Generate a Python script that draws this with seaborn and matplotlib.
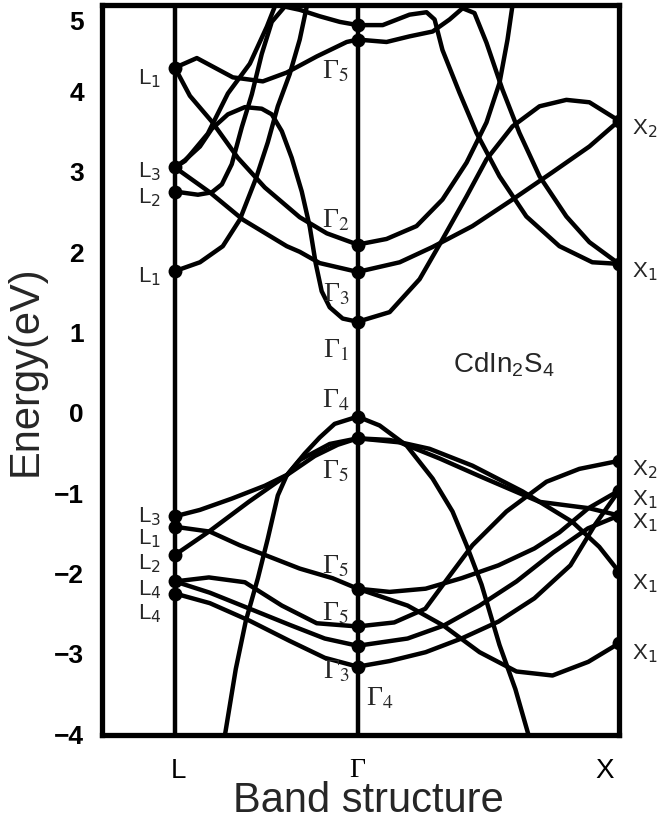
import numpy as np
import pandas as pd
import matplotlib
matplotlib.use("Agg")
import matplotlib.pyplot as plt
import matplotlib.transforms as mtransforms
import seaborn as sns

# ---------------- data (k: L=0, Gamma=1, X=2.43 ; E in eV) ----------------
K_L, K_G, K_X = 0.0, 1.0, 2.43

# conduction bands, L -> Gamma
c1_k = [0, 0.12, 0.317, 0.481, 0.612, 0.776, 0.94, 1.0]
c1_e = [4.28, 4.40, 4.16, 4.11, 4.22, 4.42, 4.60, 4.63]
c2_k = [0, 0.082, 0.202, 0.344, 0.492, 0.683, 0.831, 1.0]
c2_e = [4.28, 3.93, 3.61, 3.16, 2.79, 2.42, 2.22, 2.08]
c3_k = [0, 0.191, 0.372, 0.612, 0.683, 0.792, 1.0]
c3_e = [3.04, 2.73, 2.39, 2.06, 1.99, 1.85, 1.74]
c4_k = [0, 0.055, 0.137, 0.202, 0.29, 0.383, 0.475, 0.53, 0.585, 0.639, 0.694, 0.738, 0.77, 0.803, 0.847, 0.918, 1.0]
c4_e = [3.04, 3.13, 3.30, 3.52, 3.70, 3.79, 3.77, 3.70, 3.49, 3.16, 2.74, 2.30, 1.85, 1.50, 1.30, 1.16, 1.12]
c5_k = [0, 0.055, 0.18, 0.235, 0.29, 0.41, 0.503, 0.557]
c5_e = [3.04, 3.12, 3.46, 3.71, 3.96, 4.33, 4.79, 5.10]
c6_k = [0, 0.126, 0.202, 0.257, 0.311, 0.366, 0.421, 0.475, 0.53, 0.601, 0.683, 0.792, 0.902, 1.0]
c6_e = [2.74, 2.70, 2.73, 2.83, 3.08, 3.54, 3.95, 4.45, 4.85, 5.04, 5.00, 4.92, 4.85, 4.81]
c7_k = [0, 0.137, 0.262, 0.355, 0.443, 0.508, 0.563, 0.628, 0.683, 0.727]
c7_e = [1.75, 1.86, 2.06, 2.39, 2.90, 3.35, 3.80, 4.20, 4.63, 5.10]

# conduction bands, Gamma -> X
d1_k = [1.0, 1.137, 1.284, 1.377, 1.421, 1.464, 1.557, 1.65, 1.776, 1.923, 2.104, 2.284, 2.43]
d1_e = [4.81, 4.81, 4.94, 4.97, 4.88, 4.50, 3.97, 3.47, 2.93, 2.43, 2.06, 1.86, 1.84]
d2_k = [1.0, 1.158, 1.284, 1.41, 1.503, 1.574, 1.639, 1.705, 1.792, 1.885, 1.995, 2.142, 2.268, 2.43]
d2_e = [4.63, 4.60, 4.67, 4.73, 4.88, 5.02, 4.96, 4.59, 4.01, 3.47, 2.93, 2.43, 2.11, 1.84]
d3_k = [1.0, 1.158, 1.322, 1.464, 1.596, 1.705, 1.776, 1.82, 1.85]
d3_e = [2.08, 2.15, 2.31, 2.64, 3.10, 3.60, 4.09, 4.63, 5.10]
d4_k = [1.0, 1.23, 1.41, 1.628, 1.847, 2.066, 2.268, 2.43]
d4_e = [1.74, 1.86, 2.05, 2.31, 2.64, 2.98, 3.30, 3.62]
d5_k = [1.0, 1.175, 1.339, 1.448, 1.596, 1.705, 1.847, 1.995, 2.142, 2.268, 2.43]
d5_e = [1.12, 1.24, 1.65, 2.08, 2.68, 3.14, 3.55, 3.80, 3.88, 3.85, 3.62]

# valence bands, L -> Gamma
v1_k = [0, 0.137, 0.311, 0.492, 0.617, 0.765, 0.891, 1.0]
v1_e = [-1.30, -1.22, -1.08, -0.92, -0.78, -0.55, -0.41, -0.33]
v2_k = [0, 0.186, 0.404, 0.612, 0.71, 0.792, 0.874, 1.0]
v2_e = [-1.78, -1.49, -1.12, -0.79, -0.52, -0.32, -0.15, -0.06]
v3_k = [1.0, 0.847, 0.683, 0.612, 0.563, 0.508, 0.454, 0.388, 0.333, 0.268]
v3_e = [-0.33, -0.40, -0.60, -0.79, -1.04, -1.58, -2.07, -2.60, -3.20, -4.10]
v4_k = [0, 0.191, 0.355, 0.503, 0.683, 0.863, 1.0]
v4_e = [-1.43, -1.49, -1.66, -1.79, -1.95, -2.07, -2.20]
v5_k = [0, 0.186, 0.383, 0.585, 0.776, 1.0]
v5_e = [-2.11, -2.06, -2.12, -2.41, -2.63, -2.67]
v6_k = [0, 0.191, 0.41, 0.628, 0.82, 1.0]
v6_e = [-2.11, -2.25, -2.45, -2.65, -2.82, -2.91]
v7_k = [0, 0.191, 0.41, 0.628, 0.82, 1.0]
v7_e = [-2.26, -2.38, -2.60, -2.85, -3.06, -3.17]

# valence bands, Gamma -> X
w1_k = [1.0, 1.12, 1.268, 1.41, 1.519, 1.596, 1.678, 1.776, 1.863, 1.945]
w1_e = [-0.06, -0.17, -0.42, -0.83, -1.24, -1.66, -2.15, -2.90, -3.45, -4.10]
w2_k = [1.0, 1.175, 1.393, 1.628, 1.902, 2.175, 2.322, 2.43]
w2_e = [-0.33, -0.35, -0.46, -0.67, -0.99, -1.37, -1.68, -1.99]
w3_k = [1.0, 1.23, 1.448, 1.667, 1.995, 2.268, 2.43]
w3_e = [-0.33, -0.38, -0.58, -0.80, -1.12, -1.20, -1.29]
w4_k = [1.0, 1.273, 1.47, 1.667, 1.869, 2.066, 2.262, 2.43]
w4_e = [-2.20, -2.41, -2.66, -2.99, -3.23, -3.28, -3.11, -2.88]
w5_k = [1.0, 1.175, 1.372, 1.568, 1.77, 1.967, 2.104, 2.262, 2.43]
w5_e = [-2.20, -2.24, -2.20, -2.07, -1.91, -1.70, -1.50, -1.20, -0.98]
w6_k = [1.0, 1.2, 1.37, 1.503, 1.628, 1.814, 2.033, 2.213, 2.43]
w6_e = [-2.67, -2.62, -2.45, -2.04, -1.66, -1.24, -0.87, -0.71, -0.61]
w7_k = [1.0, 1.273, 1.47, 1.667, 1.869, 2.07, 2.26, 2.43]
w7_e = [-2.91, -2.82, -2.66, -2.41, -2.11, -1.75, -1.45, -1.29]
w8_k = [1.0, 1.175, 1.372, 1.568, 1.77, 1.967, 2.164, 2.30, 2.43]
w8_e = [-3.17, -3.10, -2.99, -2.82, -2.61, -2.32, -1.91, -1.40, -0.98]

# symmetry-point energies (dots)
L_levels = [4.28, 3.04, 2.74, 1.75, -1.30, -1.43, -1.78, -2.11, -2.26]
G_levels = [4.81, 4.63, 2.08, 1.74, 1.12, -0.06, -0.33, -2.20, -2.67, -2.91, -3.17]
X_levels = [3.62, 1.84, -0.61, -0.98, -1.29, -1.99, -2.88]

# labels
L_names = ["L$_1$", "L$_3$", "L$_2$", "L$_1$", "L$_3$", "L$_1$", "L$_2$", "L$_4$", "L$_4$"]
L_lab_e = [4.15, 3.00, 2.68, 1.69, -1.29, -1.57, -1.88, -2.20, -2.50]
G_names = ["Γ$_5$", "Γ$_2$", "Γ$_3$", "Γ$_1$", "Γ$_4$", "Γ$_5$", "Γ$_5$", "Γ$_5$", "Γ$_3$"]
G_lab_e = [4.25, 2.39, 1.47, 0.77, 0.15, -0.73, -1.91, -2.50, -3.22]
X_names = ["X$_2$", "X$_1$", "X$_2$", "X$_1$", "X$_1$", "X$_1$", "X$_1$"]
X_lab_e = [3.54, 1.75, -0.71, -1.08, -1.37, -2.12, -3.00]

y_ticks = [-4, -3, -2, -1, 0, 1, 2, 3, 4, 5]
x_tick_labels = ["L", "Γ", "X"]

bands = {
    "c1": (c1_k, c1_e), "c2": (c2_k, c2_e), "c3": (c3_k, c3_e), "c4": (c4_k, c4_e),
    "c5": (c5_k, c5_e), "c6": (c6_k, c6_e), "c7": (c7_k, c7_e),
    "d1": (d1_k, d1_e), "d2": (d2_k, d2_e), "d3": (d3_k, d3_e), "d4": (d4_k, d4_e),
    "d5": (d5_k, d5_e),
    "v1": (v1_k, v1_e), "v2": (v2_k, v2_e), "v3": (v3_k, v3_e), "v4": (v4_k, v4_e),
    "v5": (v5_k, v5_e), "v6": (v6_k, v6_e), "v7": (v7_k, v7_e),
    "w1": (w1_k, w1_e), "w2": (w2_k, w2_e), "w3": (w3_k, w3_e), "w4": (w4_k, w4_e),
    "w5": (w5_k, w5_e), "w6": (w6_k, w6_e), "w7": (w7_k, w7_e), "w8": (w8_k, w8_e),
}
df = pd.concat([pd.DataFrame({"k": k, "E": e, "band": name}) for name, (k, e) in bands.items()],
               ignore_index=True)

nodes = pd.DataFrame({
    "k": [K_L] * len(L_levels) + [K_G] * len(G_levels) + [K_X] * len(X_levels),
    "E": L_levels + G_levels + X_levels,
})

# ---------------- plot ----------------
sns.set_theme(style="white")
plt.rcParams["font.family"] = ["Liberation Sans", "DejaVu Sans"]

W, H = 670, 829
fig = plt.figure(figsize=(W / 100, H / 100), dpi=100)
ax = fig.add_axes([102 / W, 1 - 736 / H, (619 - 102) / W, (736 - 6) / H])

ax.axvline(K_L, color="black", lw=3.2, zorder=2)
ax.axvline(K_G, color="black", lw=3.2, zorder=2)

sns.lineplot(data=df, x="k", y="E", units="band", estimator=None, sort=False,
             color="black", linewidth=3.2, ax=ax, legend=False, zorder=3)
sns.scatterplot(data=nodes, x="k", y="E", s=100, color="black", edgecolor="black",
                linewidth=0, ax=ax, zorder=4, legend=False)

ax.set_xlim(-0.399, K_X)
ax.set_ylim(-4.02, 5.06)

for sp in ax.spines.values():
    sp.set_linewidth(3.8)
    sp.set_color("black")

ax.set_yticks(y_ticks)
ax.set_yticklabels([str(t).replace("-", "\u2212") for t in y_ticks],
                   fontsize=19, fontweight="bold")
ax.tick_params(axis="y", direction="in", length=7, width=3.2, pad=13, colors="black")
# the top label "5" sits a little below the frame edge in the original
for t in ax.get_yticklabels():
    if t.get_text() == "5":
        t.set_transform(t.get_transform() +
                        mtransforms.ScaledTranslation(0, -10 / 100, fig.dpi_scale_trans))

ax.set_xticks([K_L + 0.02, K_G, K_X - 0.08])
ax.set_xticklabels(x_tick_labels, fontsize=20)
ax.tick_params(axis="x", length=0, pad=16, colors="black")
for t in ax.get_xticklabels():
    if t.get_text() == "Γ":
        t.set_fontfamily(["Liberation Serif", "DejaVu Serif"])

ax.set_xlabel("Band structure", fontsize=30, labelpad=2)
ax.xaxis.set_label_coords((368 - 102) / 517, -0.062)
ax.set_ylabel("Energy(eV)", fontsize=30, labelpad=6)
ax.grid(False)

for name, e in zip(L_names, L_lab_e):
    ax.text(K_L - 0.075, e, name, ha="right", va="center", fontsize=16,
            fontfamily="Liberation Sans", math_fontfamily="dejavusans")
for name, e in zip(G_names, G_lab_e):
    ax.text(K_G - 0.045, e, name, ha="right", va="center", fontsize=20,
            fontfamily="Liberation Serif", math_fontfamily="stix")
ax.text(K_G + 0.045, -3.56, "Γ$_4$", ha="left", va="center", fontsize=20,
        fontfamily="Liberation Serif", math_fontfamily="stix")
for name, e in zip(X_names, X_lab_e):
    ax.text(K_X + 0.07, e, name, ha="left", va="center", fontsize=16,
            fontfamily="Liberation Sans", math_fontfamily="dejavusans", clip_on=False)

ax.text(1.80, 0.60, r"$\mathregular{CdIn_2S_4}$", ha="center", va="center", fontsize=20,
        fontfamily="Liberation Sans")

fig.savefig("out.png", dpi=100)
